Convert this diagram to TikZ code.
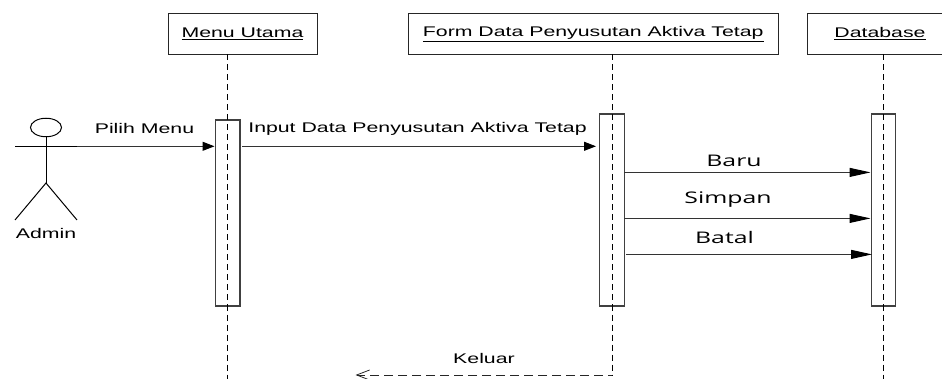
\documentclass[tikz,border=0pt]{standalone}
\usepackage{fontspec}
\setmainfont[FakeStretch=1.52]{Liberation Sans}
\newfontfamily\msgfont[FakeStretch=1.55]{Open Sans}
\usetikzlibrary{arrows.meta,shapes.geometric}
\tikzset{
  x=1pt,y=-1pt,
  every node/.style={inner sep=0pt,outer sep=0pt,font=\fontsize{14}{16}\selectfont,text=black},
  headbox/.style={draw=black!85,line width=1pt,fill=white,minimum height=41pt,anchor=north west},
  lifeline/.style={draw=black,line width=1pt,dash pattern=on 6pt off 4pt},
  actbox/.style={draw=black!75,line width=1.1pt,anchor=north west,minimum width=24.5pt},
  msg/.style={draw=black!80,line width=1pt,-{Triangle[length=12pt,width=9pt,fill=black,color=black]}},
  msgs/.style={draw=black!80,line width=1pt,-{Triangle[length=21pt,width=9pt,fill=black,color=black]}},
  ret/.style={draw=black!85,line width=1pt,dash pattern=on 9pt off 5pt,dash phase=5pt,-{Straight Barb[length=13pt,width=10pt,line width=.8pt]}},
  bigmsg/.style={font=\msgfont\fontsize{16}{18}\selectfont},
  stick/.style={draw=black,line width=1pt}
}
\begin{document}
\begin{tikzpicture}
\useasboundingbox (0,0) rectangle (942,379);
% lifeline ends
\coordinate (menuEnd) at (227.5,379);
\coordinate (formEnd) at (612,375);
\coordinate (dbEnd) at (883,379);
% heads
\node[headbox,minimum width=149pt] (menu) at (168,13.5) {\underline{Menu Utama}};
\node[headbox,minimum width=369.5pt] (form) at (408.5,13.5) {\underline{Form Data Penyusutan Aktiva Tetap}};
\node[headbox,minimum width=146pt] (db) at (807,13.5) {\underline{Database}};
% activations
\node[actbox,minimum height=186pt] (a1) at (215.5,120) {};
\node[actbox,minimum height=192pt] (a2) at (599.8,114) {};
\node[actbox,minimum height=192pt] (a3) at (871.2,114) {};
% lifelines
\draw[lifeline] (menu.south -| menuEnd) -- (menuEnd);
\draw[lifeline] (form.south -| formEnd) -- (formEnd);
\draw[lifeline] (db.south -| dbEnd) -- (dbEnd);
% actor
\node[draw=black,line width=1pt,ellipse,minimum width=31pt,minimum height=18.5pt] (head) at (46,127.5) {};
\coordinate (hip) at (46,183);
\coordinate (armL) at (15,146.3);
\coordinate (armR) at (77,146.3);
\coordinate (legL) at (15,220);
\coordinate (legR) at (77,220);
\draw[stick] (head.south) -- (hip);
\draw[stick] (armL) -- (armR);
\draw[stick] (legL) -- (hip) -- (legR);
\node (admin) at (46,233.5) {Admin};
% messages
\coordinate (m1e) at (214.5,146.3);
\coordinate (m2s) at (242,146.3);
\coordinate (m2e) at (596,146.3);
\coordinate (m3s) at (624,172.4);
\coordinate (m3e) at (870.5,172.4);
\coordinate (m4s) at (624,218.4);
\coordinate (m4e) at (870.5,218.4);
\coordinate (m5s) at (626,254.4);
\coordinate (m5e) at (872,254.4);
\coordinate (m6e) at (355.5,375);
\draw[msg] (armR) -- (m1e);
\draw[msg] (m2s) -- (m2e);
\draw[msgs] (m3s) -- (m3e);
\draw[msgs] (m4s) -- (m4e);
\draw[msgs] (m5s) -- (m5e);
\draw[ret] (formEnd) -- (m6e);
% labels
\node (l1) at (144.5,128.5) {Pilih Menu};
\node (l2) at (417.5,128.5) {Input Data Penyusutan Aktiva Tetap};
\node[bigmsg] (l3) at (734,160.8) {Baru};
\node[bigmsg] (l4) at (728,200) {Simpan};
\node[bigmsg] (l5) at (724.5,237.8) {Batal};
\node (l6) at (484,358) {Keluar};
\end{tikzpicture}
\end{document}
